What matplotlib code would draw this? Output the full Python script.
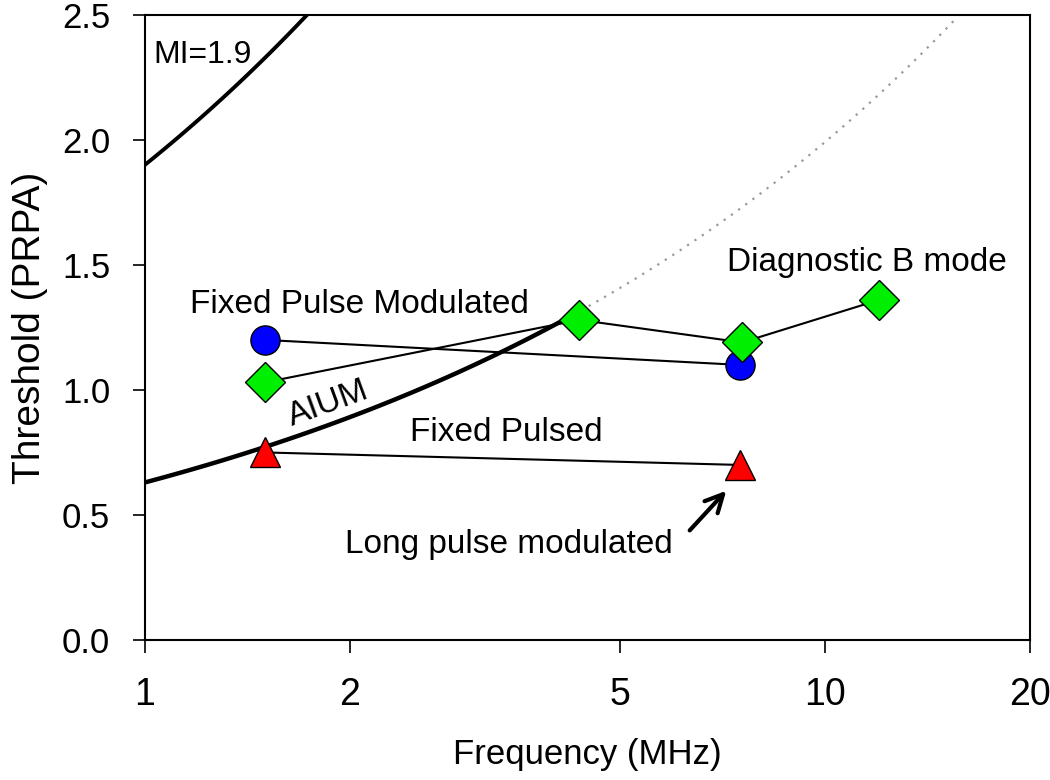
import numpy as np
import matplotlib
matplotlib.use("Agg")
import matplotlib.pyplot as plt
from matplotlib import font_manager

# Data
freq_fpm = [1.5, 7.5]
thr_fpm = [1.20, 1.10]

freq_diag = [1.5, 4.35, 7.55, 12.0]
thr_diag = [1.03, 1.28, 1.19, 1.36]

freq_fp = [1.5, 7.5]
thr_fp = [0.75, 0.70]

# MI curves: threshold = MI * sqrt(f)
mi_high = 1.9
mi_aium = 0.63
aium_solid_end = 4.15
aium_dotted_end = 15.5

xticks = [1, 2, 5, 10, 20]
yticks = [0.0, 0.5, 1.0, 1.5, 2.0, 2.5]

names = {f.name for f in font_manager.fontManager.ttflist}
base = "Liberation Sans" if "Liberation Sans" in names else "DejaVu Sans"
narrow = "Liberation Sans Narrow" if "Liberation Sans Narrow" in names else base
plt.rcParams['font.family'] = [base, 'DejaVu Sans']

fig = plt.figure(figsize=(10.5, 7.8), dpi=100)
ax = fig.add_axes([0.138, 0.1795, 0.843, 0.8015])

# theoretical curves
f_hi = np.geomspace(1, 2.0, 100)
ax.plot(f_hi, mi_high * np.sqrt(f_hi), color="black", lw=2.8, zorder=2)

f_a = np.geomspace(1, aium_solid_end, 100)
ax.plot(f_a, mi_aium * np.sqrt(f_a), color="black", lw=3.2, zorder=2)
f_d = np.geomspace(aium_solid_end, aium_dotted_end, 100)
ax.plot(f_d, mi_aium * np.sqrt(f_d), color="#999999", lw=1.6,
        linestyle=(0, (1, 3)), zorder=2)

# measured series
ax.plot(freq_fpm, thr_fpm, color="black", lw=1.5, marker="o", ms=21,
        mfc="#0000ff", mec="black", mew=1, zorder=3)
ax.plot(freq_diag, thr_diag, color="black", lw=1.5, marker="D", ms=20,
        mfc="#00ee00", mec="black", mew=1, zorder=4)
ax.plot(freq_fp, thr_fp, color="black", lw=1.5, marker="^", ms=22,
        mfc="#ff0000", mec="black", mew=1, zorder=3)

ax.set_xscale("log")
ax.set_xlim(1, 20)
ax.set_ylim(0, 2.5)
ax.set_xticks(xticks)
ax.set_xticklabels([str(t) for t in xticks], fontfamily=narrow, fontsize=27)
ax.xaxis.set_minor_locator(matplotlib.ticker.NullLocator())
ax.set_yticks(yticks)
ax.set_yticklabels(["%.1f" % t for t in yticks], fontsize=25)
ax.tick_params(axis="both", direction="out", length=9, width=1.2,
               top=False, right=False)
ax.tick_params(axis="x", pad=18)
ax.tick_params(axis="y", pad=16)
for s in ax.spines.values():
    s.set_linewidth(1.5)

ax.set_xlabel("Frequency (MHz)", fontfamily=narrow, fontsize=25, labelpad=18)
ax.set_ylabel("Threshold (PRPA)", fontsize=28, labelpad=10)

# annotations
ax.text(1.03, 2.34, "MI=1.9", fontsize=23, ha="left", va="center")
ax.text(1.86, 0.945, "AIUM", fontsize=24, rotation=20, ha="center",
        va="center")
ax.text(2.065, 1.34, "Fixed Pulse Modulated", fontsize=24, ha="center",
        va="center")
ax.text(11.5, 1.51, "Diagnostic B mode", fontsize=24, ha="center",
        va="center")
ax.text(3.40, 0.83, "Fixed Pulsed", fontsize=24, ha="center", va="center")
ax.text(3.43, 0.38, "Long pulse modulated", fontsize=24, ha="center",
        va="center")
ax.annotate("", xy=(7.2, 0.605), xytext=(6.28, 0.43),
            arrowprops=dict(arrowstyle="->", color="black", lw=3,
                            mutation_scale=32))

fig.savefig("out.png", dpi=100)
